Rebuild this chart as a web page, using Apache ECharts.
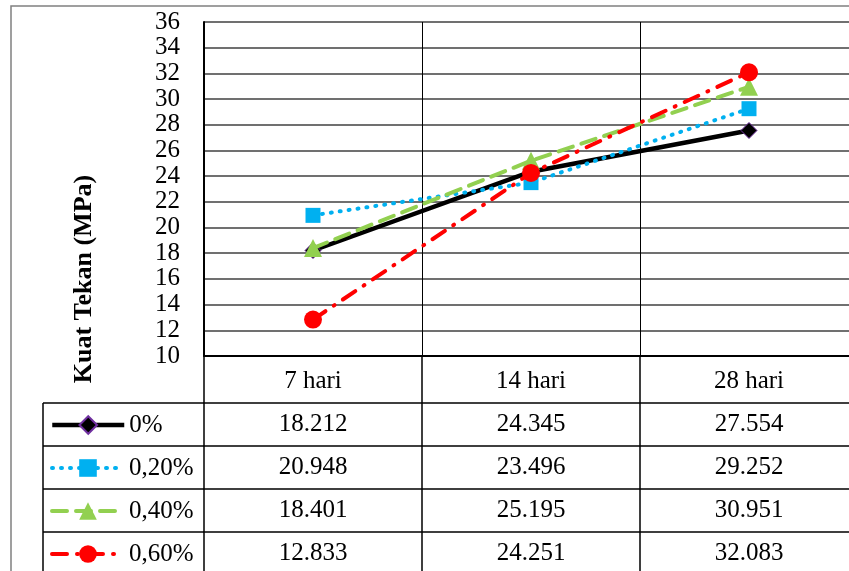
<!DOCTYPE html>
<html>
<head>
<meta charset="utf-8">
<script src="https://cdn.jsdelivr.net/npm/echarts@6/dist/echarts.min.js"></script>
<style>
  html, body { margin: 0; padding: 0; background: #fff; overflow: hidden; }
  #chart { width: 870px; height: 571px; }
</style>
</head>
<body>
<div id="chart"></div>
<script>
// data
const categories = ['7 hari', '14 hari', '28 hari'];
const seriesNames = ['0%', '0,20%', '0,40%', '0,60%'];
const s0 = [18.212, 24.345, 27.554];
const s020 = [20.948, 23.496, 29.252];
const s040 = [18.401, 25.195, 30.951];
const s060 = [12.833, 24.251, 32.083];
const yTicks = {min: 10, max: 36, interval: 2};

// layout (the plot runs past the right edge of the window, as in the reference)
const FONT = 'Liberation Serif, Times New Roman, serif';
const GRID_LEFT = 204, GRID_TOP = 22, GRID_W = 654, GRID_H = 334;
const HEAD_H = 47, ROW_H = 43;
const TABLE_LEFT = 43;

const values = [s0, s020, s040, s060];
const styles = [
  {color: '#000000', symbol: 'diamond', size: 16, line: {type: 'solid', width: 4.5},
   item: {color: '#000000', borderColor: '#7030a0', borderWidth: 1}},
  {color: '#00b0f0', symbol: 'rect', size: 15, line: {type: [1, 8], width: 4, cap: 'round'},
   item: {color: '#00b0f0'}},
  {color: '#92d050', symbol: 'triangle', size: 18, line: {type: [15, 9], width: 4, cap: 'round'},
   item: {color: '#92d050'}},
  {color: '#ff0000', symbol: 'circle', size: 18, line: {type: [15, 10, 1, 10], width: 4, cap: 'round'},
   item: {color: '#ff0000'}}
];

const chart = echarts.init(document.getElementById('chart'));

const tableTop = GRID_TOP + GRID_H + HEAD_H;

const xAxes = [{
  type: 'category',
  data: categories,
  position: 'bottom',
  boundaryGap: true,
  axisLine: {lineStyle: {color: '#000', width: 2}},
  axisTick: {show: true, length: HEAD_H, alignWithLabel: false, lineStyle: {color: '#000', width: 1.5}},
  axisLabel: {margin: 13, color: '#000', fontSize: 25, fontFamily: FONT},
  splitLine: {show: true, lineStyle: {color: '#000', width: 1}}
}];
values.forEach((vals, i) => {
  xAxes.push({
    type: 'category',
    data: vals.map(v => v.toFixed(3)),
    position: 'bottom',
    offset: HEAD_H + i * ROW_H,
    boundaryGap: true,
    axisLine: {lineStyle: {color: '#000', width: 1.5}},
    axisTick: {show: true, length: i === 3 ? ROW_H + 20 : ROW_H, alignWithLabel: false,
               lineStyle: {color: '#000', width: 1.5}},
    axisLabel: {margin: 9, color: '#000', fontSize: 25, fontFamily: FONT},
    splitLine: {show: false}
  });
});

const legends = seriesNames.map((name, i) => ({
  data: [name],
  orient: 'vertical',
  left: 50,
  top: tableTop + i * ROW_H + ROW_H / 2 - 12,
  padding: 0,
  itemWidth: 72,
  itemHeight: 22,
  selectedMode: false,
  lineStyle: {width: styles[i].line.width},
  textStyle: {color: '#000', fontSize: 25, fontFamily: FONT}
}));

const legendLines = [];
for (let i = 0; i < 4; i++) {
  legendLines.push({
    type: 'line',
    shape: {x1: TABLE_LEFT, y1: tableTop + i * ROW_H, x2: GRID_LEFT, y2: tableTop + i * ROW_H},
    style: {stroke: '#000', lineWidth: 1.5}
  });
}
legendLines.push({
  type: 'line',
  shape: {x1: TABLE_LEFT, y1: tableTop, x2: TABLE_LEFT, y2: 600},
  style: {stroke: '#000', lineWidth: 1.5}
});

chart.setOption({
  animation: false,
  grid: {left: GRID_LEFT, top: GRID_TOP, width: GRID_W, height: GRID_H, containLabel: false},
  xAxis: xAxes,
  yAxis: {
    type: 'value',
    min: yTicks.min,
    max: yTicks.max,
    interval: yTicks.interval,
    axisLine: {show: true, lineStyle: {color: '#000', width: 2}},
    axisTick: {show: false},
    axisLabel: {margin: 24, color: '#000', fontSize: 25, fontFamily: FONT, lineHeight: 25},
    splitLine: {show: true, lineStyle: {color: '#404040', width: 1.5}}
  },
  legend: legends,
  graphic: [
    {type: 'rect', shape: {x: 11, y: 6, width: 900, height: 600},
     style: {fill: 'none', stroke: '#808080', lineWidth: 1.5}, silent: true},
    {type: 'text', x: 84, y: 279, rotation: Math.PI / 2,
     style: {text: 'Kuat Tekan (MPa)', fill: '#000', font: 'bold 26px ' + FONT,
             textAlign: 'center', textVerticalAlign: 'middle'}}
  ].concat(legendLines),
  series: values.map((vals, i) => ({
    name: seriesNames[i],
    type: 'line',
    xAxisIndex: 0,
    data: vals,
    symbol: styles[i].symbol,
    symbolSize: styles[i].size,
    showAllSymbol: true,
    lineStyle: {color: styles[i].color, type: styles[i].line.type, width: styles[i].line.width,
                cap: styles[i].line.cap || 'butt'},
    itemStyle: styles[i].item,
    z: 3 + i
  }))
});
</script>
</body>
</html>
